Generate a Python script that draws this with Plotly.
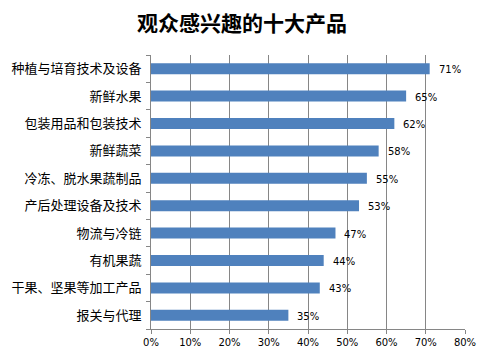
import plotly.graph_objects as go

categories = ["种植与培育技术及设备", "新鲜水果", "包装用品和包装技术", "新鲜蔬菜",
              "冷冻、脱水果蔬制品", "产后处理设备及技术", "物流与冷链", "有机果蔬",
              "干果、坚果等加工产品", "报关与代理"]
values = [71, 65, 62, 58, 55, 53, 47, 44, 43, 35]
x_ticks = [0, 10, 20, 30, 40, 50, 60, 70, 80]
title = "观众感兴趣的十大产品"

cats = categories[::-1]
vals = values[::-1]

# page body has an 8px margin; figure is sized/placed to compensate
OFF = 8
W, H = 485 - OFF, 364 - OFF
L, T = 151 - OFF, 55 - OFF
R = W - (465 - OFF)
B = H - (329 - OFF)

fig = go.Figure()
fig.add_trace(go.Bar(
    y=cats, x=vals, orientation="h",
    marker=dict(color="#4F81BD", line=dict(width=0)),
    hoverinfo="skip",
))

for c, v in zip(cats, vals):
    fig.add_annotation(x=v, y=c, text=f"{v}%", showarrow=False,
                       xanchor="left", xshift=7, yshift=-1,
                       font=dict(family="DejaVu Sans", size=10, color="#000000"))

fig.update_layout(
    width=W, height=H,
    margin=dict(l=L, r=R, t=T, b=B, autoexpand=False),
    paper_bgcolor="white", plot_bgcolor="white",
    bargap=0.6,
    showlegend=False,
    title=dict(text=f"<b>{title}</b>", x=(242 - OFF) / W, xanchor="center",
               y=1 - (24 - OFF) / H, yanchor="middle",
               font=dict(family="Noto Sans CJK SC", size=21, color="#000000")),
)
fig.update_xaxes(
    range=[0, 80], tickvals=x_ticks, ticktext=[f"{t}%" for t in x_ticks],
    showgrid=True, gridcolor="#868686", gridwidth=1,
    showline=True, linecolor="#868686", linewidth=1,
    ticks="outside", ticklen=4, tickcolor="#868686",
    tickfont=dict(family="DejaVu Sans", size=10, color="#000000"),
    zeroline=False, fixedrange=True, automargin=False,
)
fig.update_yaxes(
    type="category", categoryorder="array", categoryarray=cats,
    showgrid=False,
    showline=True, linecolor="#868686", linewidth=1,
    ticks="outside", ticklen=4, tickcolor="#868686", tickson="boundaries",
    ticklabelstandoff=6,
    tickfont=dict(family="Noto Sans CJK SC", size=13, color="#000000"),
    fixedrange=True, automargin=False,
)

ph = H - T - B
pw = W - L - R
bx = (482.5 - OFF - L) / pw
fig.add_shape(type="line", xref="paper", yref="paper",
              x0=bx, x1=bx, y0=-B / ph, y1=1 + T / ph,
              line=dict(color="#868686", width=1))

fig.write_html("out.html")
